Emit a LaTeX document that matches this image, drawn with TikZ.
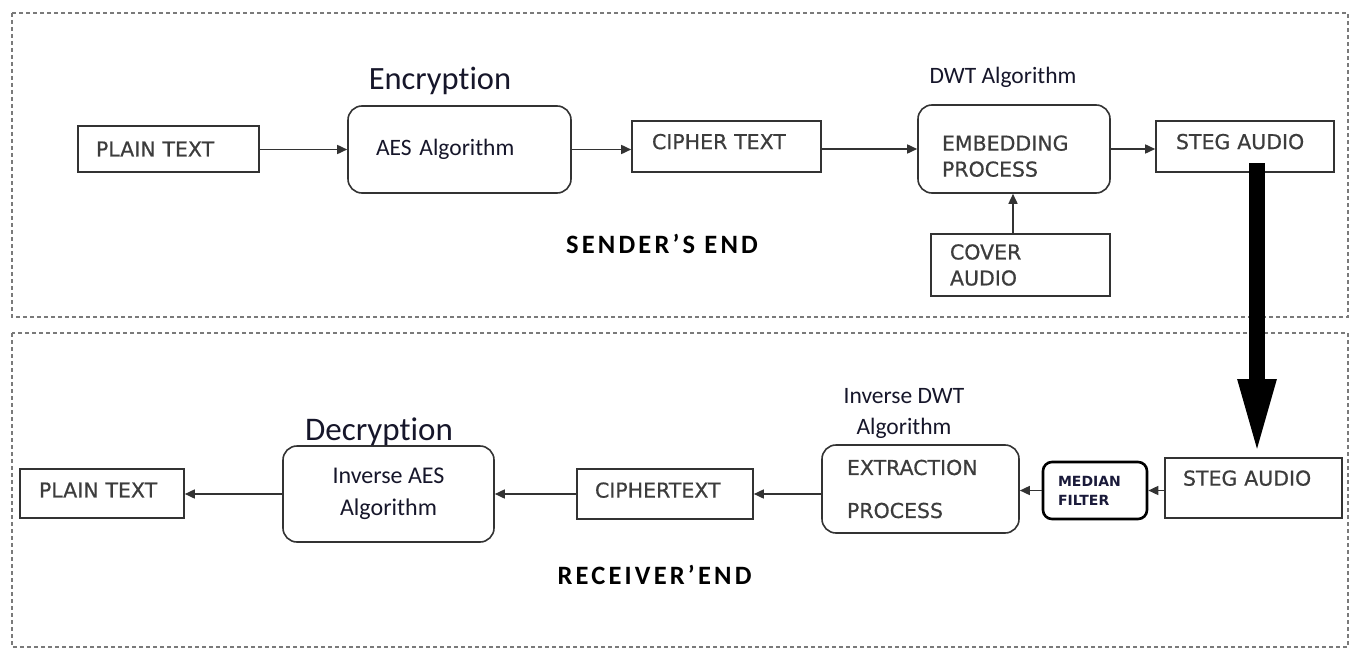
\documentclass[tikz,border=0pt]{standalone}
\usepackage{fontspec}
\setmainfont{Carlito}[Ligatures=NoCommon]
\newfontfamily\boxfont{DejaVu Sans}[FakeBold=0.6]
\newfontfamily\medfont{DejaVu Sans}
\newfontfamily\capfont{Carlito}[LetterSpace=12,Ligatures=NoCommon]
\usetikzlibrary{arrows.meta}
\definecolor{linec}{HTML}{333333}
\definecolor{txtc}{HTML}{3C3C3C}
\definecolor{lblc}{HTML}{16162A}
\definecolor{dashc}{HTML}{7A7A7A}
\definecolor{medc}{HTML}{1A1A3A}
\begin{document}
\begin{tikzpicture}[x=1pt,y=-1pt,
  box/.style={draw=linec, line width=1.6pt, font=\boxfont\fontsize{20.5}{26}\selectfont, text=txtc, align=left, inner sep=0pt},
  rbox/.style={box, rounded corners=14pt},
  con/.style={draw=linec, line width=1.6pt, -{Triangle[length=10pt,width=9pt]}},
  lbl/.style={text=lblc, inner sep=0pt},
  frame/.style={draw=dashc, line width=1.3pt, dash pattern=on 4pt off 3pt},
  endlbl/.style={text=black, inner sep=0pt, font=\capfont\bfseries\fontsize{26.5}{30}\selectfont}
]
\useasboundingbox (0,0) rectangle (1351,650);
% frames
\draw[frame] (12,13) rectangle (1348,317);
\draw[frame] (12,333) rectangle (1348,647);

% sender row
\node[box, minimum width=181, minimum height=46, text width=145] (pt1) at (168.5,149) {PLAIN TEXT};
\node[rbox, minimum width=223, minimum height=87, text width=167, font=\fontsize{23.5}{28}\selectfont, text=lblc] (aes) at (459.5,149.5) {AES Algorithm};
\node[lbl, anchor=base, font=\fontsize{32.5}{36}\selectfont] (enc) at (440,90) {Encryption};
\node[box, minimum width=189, minimum height=51, text width=149, text depth=10pt] (ct1) at (726.5,146.5) {CIPHER TEXT};
\node[rbox, minimum width=192, minimum height=88, text width=144, text depth=12pt] (emb) at (1014,149) {EMBEDDING\\PROCESS};
\node[lbl, anchor=base, font=\fontsize{23.5}{28}\selectfont] (dwt) at (1003,84) {DWT Algorithm};
\node[box, minimum width=178, minimum height=51, text width=138, text depth=10pt] (sa1) at (1245,146.5) {STEG AUDIO};
\node[box, minimum width=179, minimum height=62, text width=141] (cov) at (1020.5,265) {COVER\\AUDIO};
\node[endlbl] (sender) at (662,243.5) {SENDER’S END};

\draw[con] (pt1.east |- aes.west) -- (aes.west);
\draw[con] (aes.east) -- (aes.east -| ct1.west);
\draw[con] (ct1.east |- emb.west) -- (emb.west);
\draw[con] (emb.east) -- (emb.east -| sa1.west);
\coordinate (cvtop) at (1013,234);
\draw[con] (cvtop) -- (cvtop |- emb.south);

% receiver row
\node[box, minimum width=164, minimum height=49, text width=126, text depth=7pt] (pt2) at (102,493.5) {PLAIN TEXT};
\node[rbox, minimum width=211, minimum height=96, align=center, font=\fontsize{24}{32}\selectfont, text=lblc] (iaes) at (388.5,494) {Inverse AES\\Algorithm};
\node[lbl, anchor=base, font=\fontsize{33}{36}\selectfont] (dec) at (379,440) {Decryption};
\node[box, minimum width=176, minimum height=50, text width=140, text depth=8pt] (ct2) at (665,494) {CIPHERTEXT};
\node[rbox, minimum width=197, minimum height=88, text width=147, font=\boxfont\fontsize{20.5}{43}\selectfont] (ext) at (920.5,489) {EXTRACTION\\PROCESS};
\node[lbl, align=center, font=\fontsize{23.5}{31}\selectfont] (idwt) at (904,413) {Inverse DWT\\Algorithm};
\node[box, draw=black, line width=2.6pt, rounded corners=9pt, minimum width=104, minimum height=57, text width=74, text=medc, font=\medfont\bfseries\fontsize{14}{19}\selectfont] (med) at (1095,490.5) {MEDIAN\\FILTER};
\node[box, minimum width=177, minimum height=60, text width=141, text depth=20pt] (sa2) at (1253.5,488) {STEG AUDIO};
\node[endlbl] (recv) at (654.5,575) {RECEIVER’END};

\draw[con] (sa2.west |- med.east) -- (med.east);
\draw[con] (med.west) -- (med.west -| ext.east);
\draw[con] (ext.west |- ct2.east) -- (ct2.east);
\draw[con] (ct2.west) -- (ct2.west -| iaes.east);
\draw[con] (iaes.west) -- (iaes.west -| pt2.east);

% thick transfer arrow
\coordinate (tstart) at (1257,163);
\draw[black, line width=16pt, -{Triangle[length=78pt,width=34pt]}] (tstart) -- (tstart |- sa2.north);
\end{tikzpicture}
\end{document}
